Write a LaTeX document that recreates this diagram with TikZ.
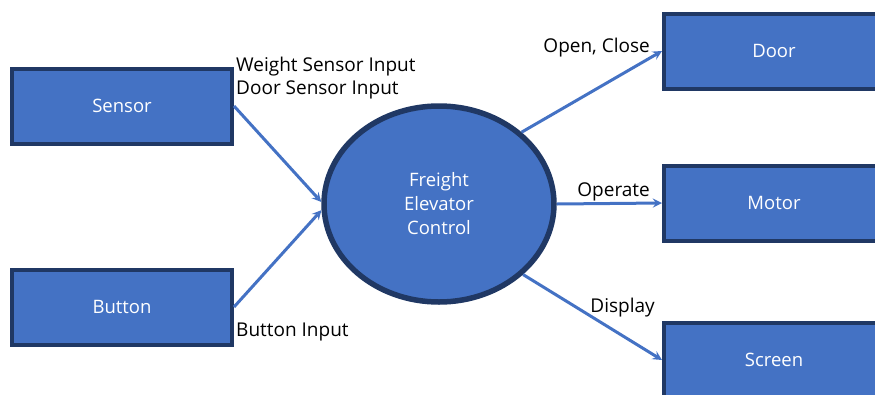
\documentclass[tikz,border=0pt]{standalone}
\usepackage{fontspec}
\setmainfont{Open Sans}
\usetikzlibrary{arrows,shapes.geometric}

\definecolor{boxfill}{HTML}{4472C4}
\definecolor{boxline}{HTML}{203864}

\tikzset{
  blockbox/.style={draw=boxline, fill=boxfill, line width=4pt,
    minimum width=220pt, minimum height=75pt, text=white,
    font=\fontsize{18.5}{24}\selectfont},
  ctrlnode/.style={ellipse, draw=boxline, fill=boxfill, line width=5.5pt,
    minimum width=230pt, minimum height=196pt, text=white, align=center,
    font=\fontsize{18.5}{24}\selectfont},
  flow/.style={draw=boxfill, line width=3pt, -stealth},
  lbl/.style={inner sep=2pt, font=\fontsize{19}{23}\selectfont}
}

\begin{document}
\begin{tikzpicture}[x=1pt,y=-1pt]
    \useasboundingbox (0,0) rectangle (875,394);

    % Entradas
    \node[blockbox] (sensor) at (122,106) {Sensor};
    \node[blockbox] (button) at (122,307) {Button};

    % Control central
    \node[ctrlnode] (ctrl) at (439,204) {Freight\\Elevator\\Control};

    % Salidas
    \node[blockbox] (door) at (774,51) {Door};
    \node[blockbox] (motor) at (774,203) {Motor};
    \node[blockbox] (screen) at (774,360) {Screen};

    % Flechas
    \draw[flow] (sensor.east) -- (ctrl.179);
    \draw[flow] (button.east) -- (ctrl.183);
    \draw[flow] (ctrl.41) -- (door.west);
    \draw[flow] (ctrl.east) -- (motor.west);
    \draw[flow] (ctrl.-40) -- (screen.west);

    % Etiquetas
    \node[lbl, anchor=west, align=left] (sensorlbl) at ([yshift=-12pt]sensor.north east) {Weight Sensor Input\\Door Sensor Input};
    \node[lbl, anchor=west] (buttonlbl) at ([yshift=15pt]button.south east) {Button Input};
    \node[lbl, anchor=east] (doorlbl) at ([xshift=-10pt,yshift=3pt]door.west) {Open, Close};
    \node[lbl, anchor=east] (motorlbl) at ([xshift=-10pt,yshift=11pt]motor.west) {Operate};
    \node[lbl, anchor=east] (screenlbl) at ([xshift=-5pt,yshift=13pt]screen.north west) {Display};
\end{tikzpicture}
\end{document}
